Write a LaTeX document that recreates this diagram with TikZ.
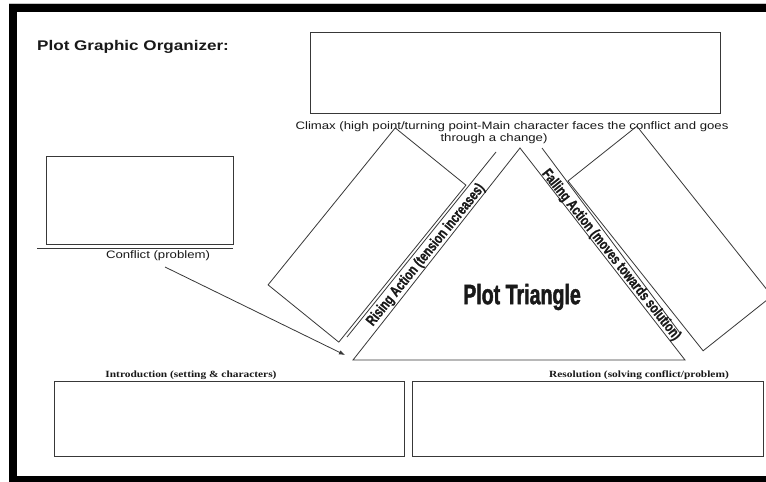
\documentclass[tikz,border=0pt]{standalone}
\usepackage{fontspec}
\setmainfont{Liberation Sans}
\newfontfamily\sansw[FakeStretch=1.22]{Liberation Sans}
\newfontfamily\serifw[FakeStretch=1.2]{Liberation Serif}
\newfontfamily\narrowa[FakeStretch=0.70,FakeBold=1.6]{Liberation Sans}
\newfontfamily\narrowb[FakeStretch=0.75,FakeBold=0.8]{Liberation Sans}
\usetikzlibrary{arrows.meta}
\tikzset{
  ln/.style={draw=black!78, line width=0.8pt},
  box/.style={ln, rectangle, inner sep=0pt, fill=none},
  lbl/.style={inner sep=0pt, text=black!90},
}
\begin{document}
\begin{tikzpicture}[x=1pt,y=-1pt]
\useasboundingbox (0,0) rectangle (766,482);
\clip (0,0) rectangle (766,482);
\fill[white] (0,0) rectangle (766,482);
% frame
\draw[gray!45, line width=1pt] (9,3.5) -- (766,3.5);
\fill[black] (9,4) rectangle (780,12);
\fill[black] (9,4) rectangle (17,482);
\fill[black] (9,476) rectangle (780,490);
% title
\node[lbl, anchor=west] (title) at (37,47) {\sansw\bfseries\fontsize{14}{16}\selectfont Plot Graphic Organizer:};
% top box
\node[box, minimum width=410pt, minimum height=81pt] (climaxbox) at (515,72.5) {};
\node[lbl] (climax1) at (512,127) {\sansw\fontsize{10.8}{12}\selectfont Climax (high point/turning point-Main character faces the conflict and goes};
\node[lbl] (climax2) at (494,139) {\sansw\fontsize{10.8}{12}\selectfont through a change)};
% conflict
\node[box, minimum width=187pt, minimum height=88pt] (conflictbox) at (139.5,200) {};
\coordinate (ulA) at (37,248);
\coordinate (ulB) at (233,248);
\draw[ln] (ulA) -- (ulB);
\node[lbl] (conflict) at (158,256) {\sansw\fontsize{10.8}{12}\selectfont Conflict (problem)};
% triangle
\coordinate (apex) at (520,148);
\coordinate (bl) at (353,360);
\coordinate (br) at (685,360);
\draw[ln, line join=miter] (apex) -- (bl) -- (br) -- cycle;
\node[lbl] (plottri) at (522,297) {\narrowa\bfseries\fontsize{28}{30}\selectfont Plot Triangle};
% rising
\node[box, minimum width=202pt, minimum height=91pt, rotate=51] (risebox) at (367,235) {};
\coordinate (rA) at (347,337);
\coordinate (rB) at (496,152);
\draw[ln] (rA) -- (rB);
\node[lbl, rotate=51] (rising) at (426,255) {\narrowb\bfseries\fontsize{15}{17}\selectfont Rising Action (tension increases)};
% falling
\node[box, minimum width=217pt, minimum height=88pt, rotate=-51.5] (fallbox) at (670,238.5) {};
\coordinate (fA) at (542,148);
\coordinate (fB) at (680,333);
\draw[ln] (fA) -- (fB);
\node[lbl, rotate=-51.5] (falling) at (611,255) {\narrowb\bfseries\fontsize{15}{17}\selectfont Falling Action (moves towards solution)};
% arrow
\coordinate (arA) at (165,267);
\coordinate (arB) at (345,355);
\draw[ln, -{Latex[length=6pt,width=4.5pt]}] (arA) -- (arB);
% bottom
\node[lbl] (intro) at (191,375) {\serifw\bfseries\fontsize{9.5}{11}\selectfont Introduction (setting \& characters)};
\node[lbl] (resol) at (639,375) {\serifw\bfseries\fontsize{9.5}{11}\selectfont Resolution (solving conflict/problem)};
\node[box, minimum width=350pt, minimum height=75pt] (introbox) at (229,418.5) {};
\node[box, minimum width=351pt, minimum height=75pt] (resolbox) at (587.5,418.5) {};
\end{tikzpicture}
\end{document}
